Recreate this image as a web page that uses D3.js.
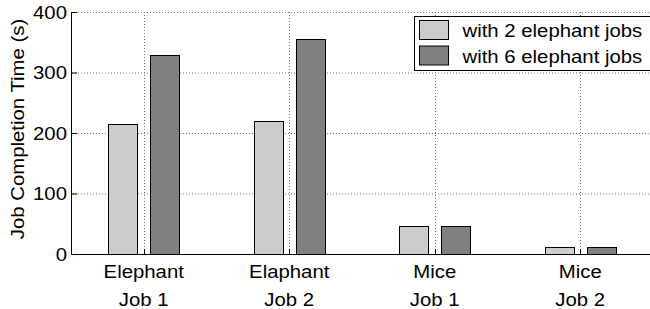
<!DOCTYPE html>
<html lang="en">
<head>
<meta charset="utf-8">
<title>Job Completion Time</title>
<style>
  body { margin: 0; background: #fff; }
  text { font-family: "Liberation Sans", Arial, sans-serif; fill: #000; font-size: 18.5px; }
</style>
</head>
<body>
<svg width="650" height="309"></svg>
<script src="https://d3js.org/d3.v7.min.js"></script>
<script>
var categories = [["Elephant", "Job 1"], ["Elaphant", "Job 2"], ["Mice", "Job 1"], ["Mice", "Job 2"]];
var seriesNames = ["with 2 elephant jobs", "with 6 elephant jobs"];
var twoJobs = [215, 220, 46, 12];
var sixJobs = [329, 356, 46, 12];
var yTicks = [0, 100, 200, 300, 400];
var colors = ["#cccccc", "#808080"];

var svg = d3.select("svg"),
    g = svg.append("g");

var x = d3.scaleLinear().domain([0.5, 4.5]).range([71, 653]);
var y = d3.scaleLinear().domain([0, 400]).range([254, 12]);

var series = [twoJobs, sixJobs];
var barW = 29, off = [-35.5, 6.5];

// text is a bit wider than Liberation Sans in the original, so stretch it
function label(parent, px, py, str, anchor, rot) {
  var t = parent.append("g")
      .attr("transform", "translate(" + px + "," + py + ")" + (rot ? " rotate(" + rot + ")" : "") + " scale(1.1,1)")
    .append("text")
      .attr("text-anchor", anchor || "start")
      .text(str);
  return t;
}

// grid
g.selectAll(".hgrid").data(yTicks.slice(1)).enter().append("line")
    .attr("x1", 72).attr("x2", 650)
    .attr("y1", function(d) { return y(d) + 0.5; })
    .attr("y2", function(d) { return y(d) + 0.5; })
    .attr("stroke", "#777").attr("stroke-width", 1)
    .attr("stroke-dasharray", "1,2");

g.selectAll(".vgrid").data(categories).enter().append("line")
    .attr("x1", function(d, i) { return Math.round(x(i + 1)) + 0.5; })
    .attr("x2", function(d, i) { return Math.round(x(i + 1)) + 0.5; })
    .attr("y1", y(400)).attr("y2", y(0))
    .attr("stroke", "#777").attr("stroke-width", 1)
    .attr("stroke-dasharray", "1,2");

// bars
series.forEach(function(vals, s) {
  g.selectAll(".bar" + s).data(vals).enter().append("rect")
      .attr("x", function(d, i) { return Math.round(x(i + 1) + off[s]) + 0.5; })
      .attr("y", function(d) { return Math.round(y(d)) + 0.5; })
      .attr("width", barW)
      .attr("height", function(d) { return Math.round(y(0)) - Math.round(y(d)); })
      .attr("fill", colors[s])
      .attr("stroke", "#000").attr("stroke-width", 1);
});

// axes
g.append("line").attr("x1", 71.5).attr("x2", 71.5).attr("y1", y(400)).attr("y2", y(0) + 0.5)
    .attr("stroke", "#000");
g.append("line").attr("x1", 71).attr("x2", 650).attr("y1", y(0) + 0.5).attr("y2", y(0) + 0.5)
    .attr("stroke", "#000");

// y ticks
g.selectAll(".ytick").data(yTicks).enter().append("line")
    .attr("x1", 72).attr("x2", 77)
    .attr("y1", function(d) { return y(d) + 0.5; })
    .attr("y2", function(d) { return y(d) + 0.5; })
    .attr("stroke", "#000");
yTicks.forEach(function(d) {
  label(g, 67, y(d) + 6.5, d, "end");
});

// x ticks
g.selectAll(".xtick").data(categories).enter().append("line")
    .attr("x1", function(d, i) { return Math.round(x(i + 1)) + 0.5; })
    .attr("x2", function(d, i) { return Math.round(x(i + 1)) + 0.5; })
    .attr("y1", y(0)).attr("y2", y(0) - 5)
    .attr("stroke", "#000");
categories.forEach(function(d, i) {
  label(g, x(i + 1), 278, d[0], "middle");
  label(g, x(i + 1), 305.5, d[1], "middle");
});

// y label
label(g, 24, 129, "Job Completion Time (s)", "middle", -90);

// legend
var lg = g.append("g");
lg.append("rect").attr("x", 414.5).attr("y", 16.5).attr("width", 240).attr("height", 54)
    .attr("fill", "#fff").attr("stroke", "#000");
seriesNames.forEach(function(name, s) {
  lg.append("rect").attr("x", 419.5).attr("y", 20.5 + s * 25.5).attr("width", 29).attr("height", 19)
      .attr("fill", colors[s]).attr("stroke", "#000");
  label(lg, 462.5, 37 + s * 25.5, name, "start");
});
</script>
</body>
</html>
